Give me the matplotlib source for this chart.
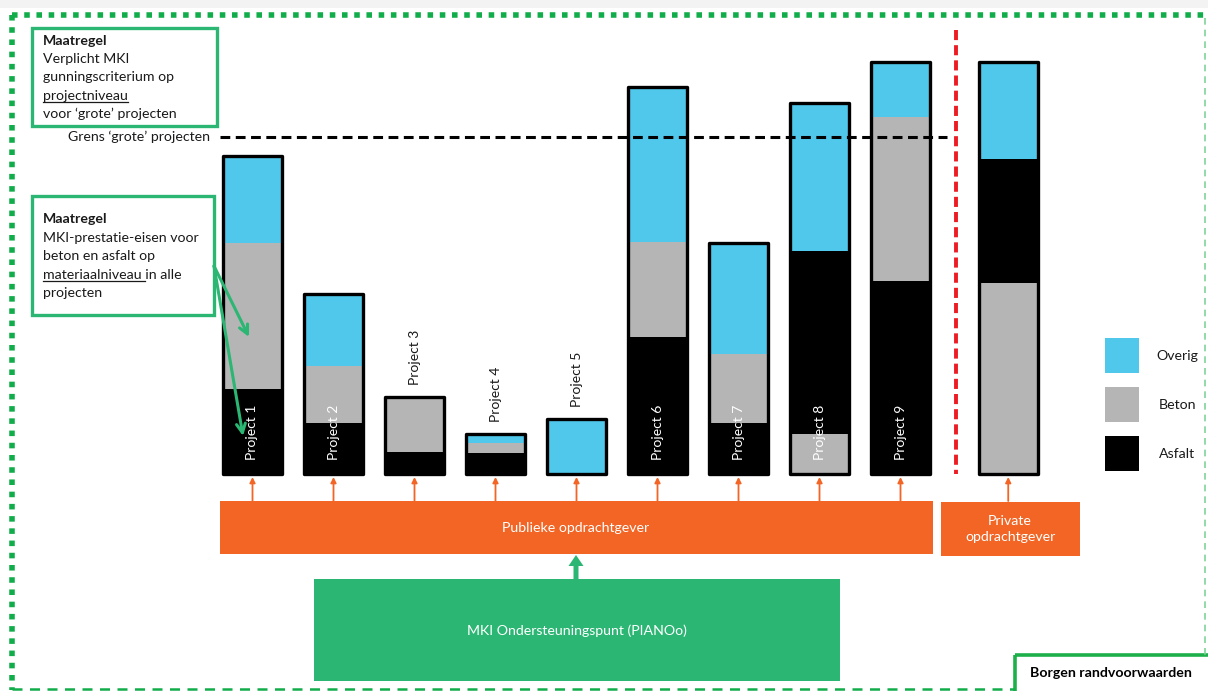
import matplotlib
matplotlib.use('Agg')
import matplotlib.pyplot as plt
from matplotlib.patches import Rectangle, FancyArrow

plt.rcParams['font.family'] = ['Lato', 'DejaVu Sans']

# MKI per project (arbitrary units)
projecten = ['Project 1', 'Project 2', 'Project 3', 'Project 4', 'Project 5',
             'Project 6', 'Project 7', 'Project 8', 'Project 9', '']
asfalt = [85, 51, 22, 21, 0, 137, 51, 183, 193, 124]
beton = [146, 57, 55, 10, 0, 95, 69, 40, 164, 191]
overig = [87, 72, 0, 9, 55, 155, 111, 148, 55, 97]
beton_onder = [False, False, False, False, False, False, False, True, False, True]
grens_grote_projecten = 337
legenda = ['Overig', 'Beton', 'Asfalt']

KLEUR = {'Overig': '#50C8EB', 'Beton': '#B5B5B5', 'Asfalt': '#000000'}
ORANJE = '#F26525'
GROEN = '#2BB673'
RAND_GROEN = '#12AD4B'
TEKST = '#1a1a1a'

x_pos = [0, 1, 2, 3, 4, 5, 6, 7, 8, 9.33]
breedte = 0.73

fig = plt.figure(figsize=(12.08, 6.91), dpi=100)

# bars axes: 81 px per project, 1 unit = 1 px, baseline at 474 px from top
bx = fig.add_axes([0, 0, 1, 1], zorder=1)
bx.set_xlim(-252.5 / 81, (1208 - 252.5) / 81)
bx.set_ylim(-217, 474)
bx.axis('off')

totalen = []
for i, x in enumerate(x_pos):
    if beton_onder[i]:
        lagen = [('Beton', beton[i]), ('Asfalt', asfalt[i]), ('Overig', overig[i])]
    else:
        lagen = [('Asfalt', asfalt[i]), ('Beton', beton[i]), ('Overig', overig[i])]
    onder = 0
    for naam, v in lagen:
        if v > 0:
            bx.bar(x, v, bottom=onder, width=breedte, color=KLEUR[naam], linewidth=0)
        onder += v
    totalen.append(onder)

bx.bar(x_pos, totalen, width=breedte, fill=False, edgecolor='black', linewidth=2.4,
       joinstyle='round')

for x, tot, naam in zip(x_pos, totalen, projecten):
    if not naam:
        continue
    if tot >= 150:
        bx.text(x, 14, naam, rotation=90, ha='center', va='bottom', color='white', fontsize=10)
    else:
        bx.text(x, tot + 12, naam, rotation=90, ha='center', va='bottom', color=TEKST, fontsize=10)

# orange arrows from opdrachtgever boxes to the bars
for x in x_pos:
    bx.annotate('', xy=(x, -3), xytext=(x, -27),
                arrowprops=dict(arrowstyle='-|>', color=ORANJE, lw=1.3,
                                mutation_scale=8, shrinkA=0, shrinkB=0))

# grens 'grote' projecten
bx.hlines(grens_grote_projecten, -0.40, 8.57, colors='black', linewidth=2.2,
          linestyles=(0, (3.2, 1.8)))

# overlay in pixel coordinates for the diagram parts
ov = fig.add_axes([0, 0, 1, 1], zorder=2)
ov.set_xlim(0, 1208)
ov.set_ylim(691, 0)
ov.patch.set_alpha(0)
ov.axis('off')

ov.add_patch(Rectangle((0, 0), 1208, 8, color='#f3f3f3', lw=0))

# outer border
ov.plot([12, 1205], [15, 15], color=RAND_GROEN, lw=4.0, dashes=(1, 1.2), dash_capstyle='butt')
ov.plot([12, 12], [15, 690], color=RAND_GROEN, lw=4.0, dashes=(1, 1.2), dash_capstyle='butt')
ov.plot([1205, 1205], [18, 655], color='#7fd39a', lw=1.2, dashes=(4, 3))
ov.plot([12, 1015], [689, 689], color=RAND_GROEN, lw=1.8, dashes=(4, 3))

ov.text(210, 137, 'Grens \u2018grote\u2019 projecten', ha='right', va='center', fontsize=10.2,
        color=TEKST)

# red separator
ov.plot([956, 956], [30, 474], color='#ED1C24', lw=2.8, dashes=(2.6, 1.3), dash_capstyle='butt')

r = fig.canvas.get_renderer()


def onderstreep(x, y, deel):
    t = ov.text(x, y, deel, fontsize=10.2, va='baseline')
    bb = t.get_window_extent(r)
    t.remove()
    ov.plot([x, x + bb.width], [y + 2.5, y + 2.5], color=TEKST, lw=0.9)


# box 1
ov.add_patch(Rectangle((32, 28), 185, 98, fill=False, edgecolor=GROEN, lw=2.4))
regels1 = ['Maatregel', 'Verplicht MKI', 'gunningscriterium op', 'projectniveau',
           'voor \u2018grote\u2019 projecten']
for j, s in enumerate(regels1):
    ov.text(43, 45 + j * 18.2, s, fontsize=10.2, va='baseline', color=TEKST,
            fontweight='bold' if j == 0 else 'normal')
onderstreep(43, 45 + 3 * 18.2, 'projectniveau')

# box 2
ov.add_patch(Rectangle((32, 196), 182, 119, fill=False, edgecolor=GROEN, lw=2.4))
regels2 = ['Maatregel', 'MKI-prestatie-eisen voor', 'beton en asfalt op',
           'materiaalniveau in alle', 'projecten']
for j, s in enumerate(regels2):
    ov.text(43, 223 + j * 18.5, s, fontsize=10.2, va='baseline', color=TEKST,
            fontweight='bold' if j == 0 else 'normal')
onderstreep(43, 223 + 3 * 18.5, 'materiaalniveau ')

for doel in [(249, 337), (243, 436)]:
    ov.annotate('', xy=doel, xytext=(214, 266),
                arrowprops=dict(arrowstyle='->', color=GROEN, lw=2.2, mutation_scale=16,
                                shrinkA=0, shrinkB=0))

# opdrachtgevers
ov.add_patch(Rectangle((220, 501), 713, 53, color=ORANJE, lw=0))
ov.text(576, 528, 'Publieke opdrachtgever', ha='center', va='center', color='white', fontsize=10.2)
ov.add_patch(Rectangle((941, 502), 139, 54, color=ORANJE, lw=0))
ov.text(1010, 529, 'Private\nopdrachtgever', ha='center', va='center', color='white',
        fontsize=10.2, linespacing=1.35)

# MKI ondersteuningspunt
ov.add_patch(Rectangle((314, 579), 526, 102, color=GROEN, lw=0))
ov.text(577, 631, 'MKI Ondersteuningspunt (PIANOo)', ha='center', va='center', color='white',
        fontsize=10.2)
ov.add_patch(FancyArrow(576, 580, 0, -25, width=5, head_width=15, head_length=11,
                        length_includes_head=True, color=GROEN, lw=0))

# legend
for k, naam in enumerate(legenda):
    y0 = 338 + k * 49
    ov.add_patch(Rectangle((1105, y0), 34, 35, color=KLEUR[naam], lw=0))
    ov.text(1177, y0 + 18, naam, ha='center', va='center', fontsize=10.2, color=TEKST)

# borgen randvoorwaarden
ov.add_patch(Rectangle((1015, 655), 200, 45, fill=False, edgecolor='#1DB04A', lw=2.6))
ov.text(1030, 673, 'Borgen randvoorwaarden', va='center', fontsize=10.2, fontweight='bold',
        color='black')

fig.savefig('out.png', dpi=100)
plt.close()
